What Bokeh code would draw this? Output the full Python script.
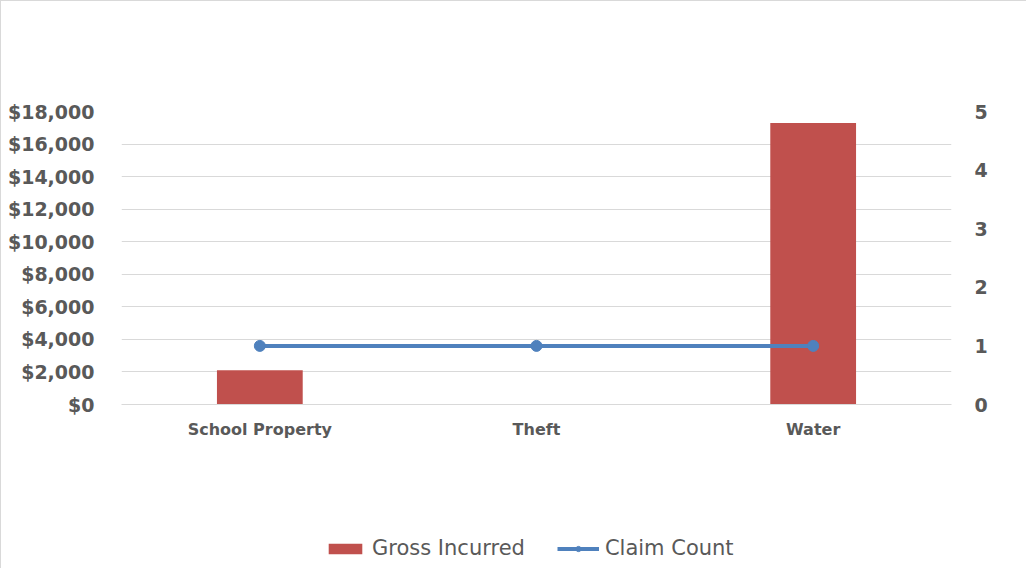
from bokeh.plotting import figure
from bokeh.layouts import column
from bokeh.models import (FactorRange, Range1d, LinearAxis, FixedTicker, NumeralTickFormatter,
                          ColumnDataSource, Legend, LegendItem)
from bokeh.embed import file_html
from bokeh.resources import INLINE

categories = ["School Property", "Theft", "Water"]
gross_incurred = [2100, 0, 17300]
claim_count = [1, 1, 1]
left_ticks = [0, 2000, 4000, 6000, 8000, 10000, 12000, 14000, 16000, 18000]
right_ticks = [0, 1, 2, 3, 4, 5]

BAR = "#c0504d"
LINE = "#4f81bd"
TXT = "#595959"

src = ColumnDataSource(dict(cat=categories, gross=gross_incurred, count=claim_count))

p = figure(width=1025, height=450, x_range=FactorRange(*categories, range_padding=0),
           y_range=Range1d(0, 18000), output_backend="svg", toolbar_location=None,
           min_border_left=120, min_border_right=75, min_border_top=110, min_border_bottom=47)
p.outline_line_color = None
p.background_fill_color = "white"
p.border_fill_color = "white"
p.extra_y_ranges = {"count": Range1d(0, 5)}

bars = p.vbar(x="cat", top="gross", width=0.31, source=src, fill_color=BAR, line_color=None)
ln = p.line(x="cat", y="count", source=src, line_color=LINE, line_width=4, y_range_name="count")
pts = p.scatter(x="cat", y="count", source=src, size=11, fill_color=LINE, line_color=LINE,
                y_range_name="count")

# left axis
ya = p.yaxis[0]
ya.ticker = FixedTicker(ticks=left_ticks)
ya.formatter = NumeralTickFormatter(format="$0,0")
ya.axis_line_color = None
ya.major_tick_line_color = None
ya.minor_tick_line_color = None
ya.major_label_standoff = 21
ya.major_label_text_font = "DejaVu Sans"
ya.major_label_text_font_style = "bold"
ya.major_label_text_font_size = "19px"
ya.major_label_text_color = TXT

# right axis
ra = LinearAxis(y_range_name="count", ticker=FixedTicker(ticks=right_ticks))
ra.axis_line_color = None
ra.major_tick_line_color = None
ra.minor_tick_line_color = None
ra.major_label_standoff = 17
ra.major_label_text_font = "DejaVu Sans"
ra.major_label_text_font_style = "bold"
ra.major_label_text_font_size = "19px"
ra.major_label_text_color = TXT
p.add_layout(ra, "right")

xa = p.xaxis[0]
xa.axis_line_color = "#d9d9d9"
xa.major_tick_line_color = None
xa.minor_tick_line_color = None
xa.major_label_standoff = 9
xa.major_label_text_font = "DejaVu Sans"
xa.major_label_text_font_style = "bold"
xa.major_label_text_font_size = "16px"
xa.major_label_text_color = TXT

p.xgrid.grid_line_color = None
p.ygrid.ticker = FixedTicker(ticks=left_ticks)
p.ygrid.grid_line_color = "#d9d9d9"

# legend strip
q = figure(width=1025, height=117, x_range=FactorRange(*categories, range_padding=0),
           y_range=Range1d(0, 18000), output_backend="svg", toolbar_location=None,
           min_border=0, x_axis_location=None, y_axis_location=None)
q.outline_line_color = None
q.grid.grid_line_color = None
q.extra_y_ranges = {"count": Range1d(0, 5)}
lb = q.vbar(x="cat", top="gross", width=0.31, source=src, fill_color=BAR, line_color=None, visible=False)
ll = q.line(x="cat", y="count", source=src, line_color=LINE, line_width=4, y_range_name="count", visible=False)
lp = q.scatter(x="cat", y="count", source=src, size=11, fill_color=LINE, line_color=LINE,
               y_range_name="count", visible=False)

legend = Legend(items=[LegendItem(label="Gross Incurred", renderers=[lb]),
                       LegendItem(label="Claim Count", renderers=[ll, lp])],
                orientation="horizontal", location=(203, 8),
                glyph_width=42, glyph_height=13, label_standoff=6, spacing=32,
                label_text_font="DejaVu Sans", label_text_font_size="21px",
                label_text_color=TXT, border_line_color=None,
                background_fill_alpha=0, margin=0, padding=0,
                inactive_fill_alpha=0)
q.add_layout(legend, "center")

layout = column(p, q, spacing=0)
layout.styles = {"border-top": "1px solid #d9d9d9", "border-left": "1px solid #d9d9d9"}

open("out.html", "w").write(file_html(layout, INLINE))
